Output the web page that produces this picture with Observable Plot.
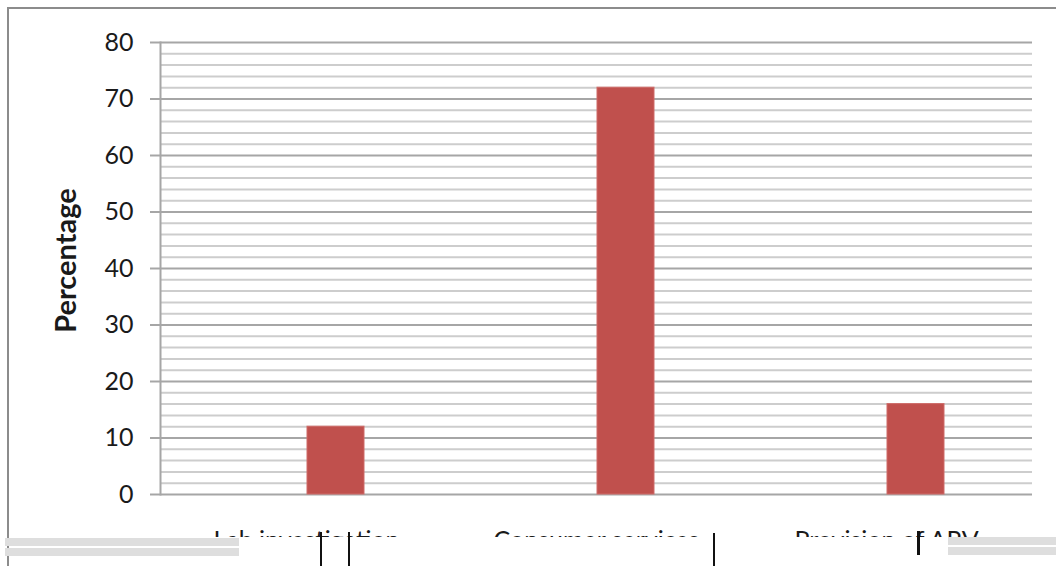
<!DOCTYPE html>
<html>
<head>
<meta charset="utf-8">
<script src="https://cdn.jsdelivr.net/npm/d3@7"></script>
<script src="https://cdn.jsdelivr.net/npm/@observablehq/plot@0.6"></script>
<style>
  html, body { margin: 0; padding: 0; background: #fff; }
  #page { position: relative; width: 1056px; height: 566px; overflow: hidden; background: #fff; }
  #clip { position: absolute; left: 0; top: 0; width: 1056px; height: 537px; overflow: hidden; }
  #border { position: absolute; left: 7px; top: 7px; width: 1100px; height: 600px;
            border-left: 2px solid #8c8c8c; border-top: 2px solid #8c8c8c; pointer-events: none; }
  .strip { position: absolute; background: #dedede; }
  .bar { position: absolute; background: #111; }
</style>
</head>
<body>
<div id="page">
  <div id="clip"></div>
  <div id="border"></div>
  <div class="strip" style="left:5px;top:538px;width:234px;height:8px"></div>
  <div class="strip" style="left:5px;top:548px;width:234px;height:8px"></div>
  <div class="strip" style="left:948px;top:537px;width:108px;height:8px"></div>
  <div class="strip" style="left:948px;top:547px;width:108px;height:8px"></div>
  <div class="bar" style="left:320px;top:532px;width:2px;height:34px"></div>
  <div class="bar" style="left:348px;top:532px;width:2px;height:34px"></div>
  <div class="bar" style="left:713px;top:533px;width:2px;height:33px"></div>
  <div class="bar" style="left:917px;top:531px;width:3px;height:24px"></div>
</div>
<script>
// Categories and their share (percent)
const categories = ["Lab investigation", "Consumer services", "Provision of ARV"];
const percentages = [12, 72, 16];

// Axis ticks: labelled every 10, fine gridlines every 2
const majorTicks = [0, 10, 20, 30, 40, 50, 60, 70, 80];
const minorTicks = [2, 4, 6, 8, 12, 14, 16, 18, 22, 24, 26, 28, 32, 34, 36, 38,
                    42, 44, 46, 48, 52, 54, 56, 58, 62, 64, 66, 68, 72, 74, 76, 78];
const yTitle = "Percentage";

const rows = categories.map((c, i) => ({category: c, value: percentages[i]}));

const chart = Plot.plot({
  width: 1056,
  height: 566,
  marginLeft: 160,
  marginRight: 24,
  marginTop: 42,
  marginBottom: 72,
  style: {fontFamily: "Lato, 'Open Sans', sans-serif", fontSize: "25px", color: "#1a1a1a", background: "transparent"},
  x: {domain: categories, padding: 0, label: null},
  y: {domain: [0, 80], label: null},
  marks: [
    Plot.ruleY(minorTicks, {stroke: "#cdcdcd", strokeWidth: 2}),
    Plot.ruleY(majorTicks, {stroke: "#a6a6a6", strokeWidth: 2}),
    Plot.frame({anchor: "left", stroke: "#a6a6a6", strokeWidth: 2}),
    Plot.barY(rows, {x: "category", y: "value", fill: "#c0504d", stroke: "#cf6b68", strokeWidth: 1,
                     insetLeft: 146, insetRight: 87}),
    Plot.axisY(majorTicks, {tickSize: 10, tickPadding: 17, stroke: "#a6a6a6", strokeWidth: 2,
                            fontSize: 25, fill: "#1a1a1a", label: null}),
    Plot.text([yTitle], {frameAnchor: "left", textAnchor: "middle", rotate: -90, dx: -94, dy: -8,
                         fontSize: 29, fontWeight: "bold", fill: "#1a1a1a"}),
    Plot.axisX({tickSize: 0, tickPadding: 37, fontSize: 25, fill: "#1a1a1a", label: null})
  ]
});
document.getElementById("clip").appendChild(chart);
</script>
</body>
</html>
